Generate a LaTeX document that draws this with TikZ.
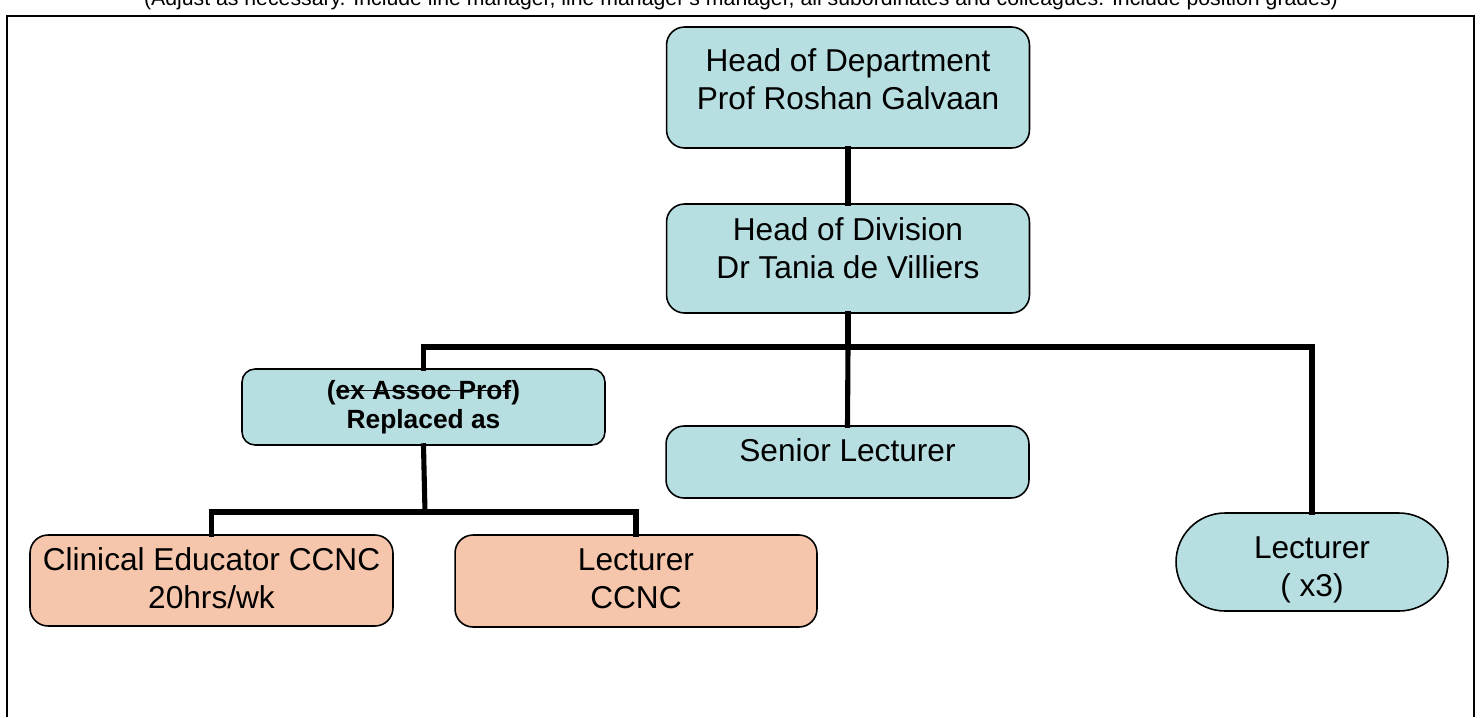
\documentclass[tikz,border=0pt]{standalone}
\usepackage{fontspec}
\setmainfont{Liberation Sans}
\usetikzlibrary{positioning,shapes.misc}

\definecolor{boxblue}{RGB}{183,222,225}
\definecolor{boxpeach}{RGB}{246,198,172}

% struck-through text
\newsavebox\strikebox
\newcommand\strikeout[1]{\sbox\strikebox{#1}\rlap{\usebox\strikebox}\rule[0.3em]{\wd\strikebox}{0.07em}}

\tikzset{
    post/.style={draw=black, line width=0.9pt, rounded corners=0.36cm, inner sep=0pt,
        minimum width=7.26cm, align=center, font=\fontsize{18}{21.5}\selectfont},
    bluebox/.style={post, fill=boxblue},
    peachbox/.style={post, fill=boxpeach},
    link/.style={line width=2.9pt, line cap=rect}
}

\begin{document}
\begin{tikzpicture}[x=0.02cm, y=-0.02cm]
    \useasboundingbox (0,0) rectangle (1481,717);

    % Caption (cut off at the top of the page)
    \node[anchor=base, inner sep=0pt, font=\fontsize{12.1}{14}\selectfont] (note) at (741,5)
        {(Adjust as necessary. Include line manager, line manager's manager, all subordinates and colleagues. Include position grades)};

    % Frame
    \draw[line width=1.4pt] (7,717) -- (7,16) -- (1474,16) -- (1474,717);

    % Boxes
    \node[bluebox, minimum height=2.42cm, text depth=9.4pt] (hod) at (848,87.5)
        {Head of Department\\Prof Roshan Galvaan};
    \node[bluebox, minimum height=2.18cm, text depth=12pt] (hodiv) at (848,258.5)
        {Head of Division\\Dr Tania de Villiers};
    \node[bluebox, minimum height=1.52cm, rounded corners=0.26cm,
          font=\fontsize{15}{16.5}\selectfont\bfseries] (ex) at (423.5,407)
        {(\strikeout{ex Assoc Prof})\\Replaced as};
    \node[bluebox, minimum height=1.44cm, text depth=14pt] (sl) at (847.5,462)
        {Senior Lecturer};
    \node[peachbox, minimum height=1.82cm, text depth=2.7pt] (ce) at (211.5,580.5)
        {Clinical Educator CCNC\\20hrs/wk};
    \node[peachbox, minimum height=1.84cm, minimum width=7.24cm, text depth=2.7pt] (lc) at (636,581)
        {Lecturer\\CCNC};
    \node[bluebox, rounded rectangle, sharp corners, minimum width=5.44cm, minimum height=1.96cm,
          text height=39pt, text depth=0pt] (lec) at (1312,562)
        {Lecturer\\( x3)};

    % Junctions
    \coordinate (top) at (848,347);
    \coordinate (low) at (425,512);

    % Lines
    \draw[link] (hod) -- (hodiv);
    \draw[link] (hodiv.south) -- (top);
    \draw[link] (ex.north) |- (top) -| (lec.north);
    \draw[link] (top) -- (sl.north);
    \draw[link] (ex.south) -- (low);
    \draw[link] (ce.north) |- (low) -| (lc.north);
\end{tikzpicture}
\end{document}
